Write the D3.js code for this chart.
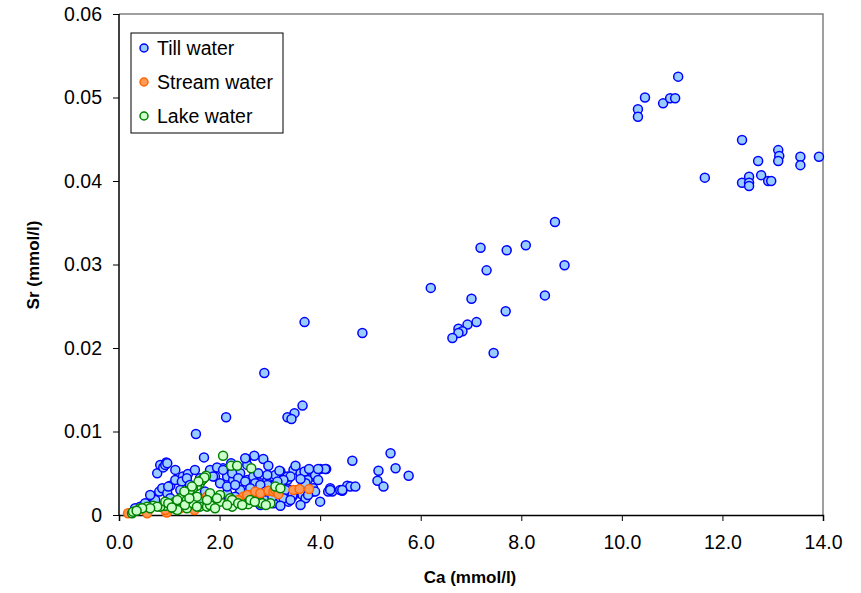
<!DOCTYPE html>
<html><head><meta charset="utf-8">
<script src="https://cdn.jsdelivr.net/npm/d3@7"></script>
<style>body{margin:0;background:#fff;} svg{display:block;} text{font-family:Arial,"Liberation Sans",sans-serif;}</style>
</head><body><svg id="c" width="861" height="593"></svg>
<script>
const seriesNames = ["Till water", "Stream water", "Lake water"];
const xTicks = [0, 2, 4, 6, 8, 10, 12, 14];
const yTicks = [0, 0.01, 0.02, 0.03, 0.04, 0.05, 0.06];
const tillWater = [
[11.12,0.0525],[10.46,0.0500],[10.32,0.0486],[10.32,0.0477],[10.82,0.0493],[10.96,0.0499],[11.06,0.0499],[12.39,0.0449],[11.65,0.0404],[12.39,0.0398],[12.53,0.0405],[12.53,0.0398],[12.53,0.0394],[12.71,0.0424],[12.77,0.0407],[12.91,0.0400],[12.97,0.0400],[13.11,0.0437],[13.13,0.0430],[13.11,0.0424],[13.55,0.0429],[13.55,0.0419],[13.92,0.0429],
[8.67,0.0351],[7.19,0.0320],[7.71,0.0317],[8.09,0.0323],[7.31,0.0293],[8.86,0.0299],[6.20,0.0272],[7.01,0.0259],[8.47,0.0263],[7.69,0.0244],[7.11,0.0231],[6.93,0.0228],[6.75,0.0223],[6.83,0.0220],[6.75,0.0218],[6.63,0.0212],[7.45,0.0194],
[3.69,0.0231],[4.84,0.0218],[2.89,0.0170],[3.65,0.0131],[3.49,0.0122],[3.35,0.0117],[3.43,0.0115],[2.13,0.0117],[1.53,0.0097],
[5.40,0.0074],[4.64,0.0065],[5.16,0.0053],[5.50,0.0056],[5.76,0.0047],[5.14,0.0041],[5.26,0.0034],[4.20,0.0032],[4.24,0.0028],[4.16,0.0028],[4.54,0.0035],[4.60,0.0034],[4.70,0.0034],[4.44,0.0029],[4.12,0.0055],[4.00,0.0055],[3.86,0.0046],
[0.76,0.0050],[0.82,0.0060],[0.94,0.0063],[0.88,0.0057],[1.69,0.0069],[2.07,0.0056],[2.69,0.0071],[2.53,0.0067],[2.87,0.0067],[2.23,0.0062],[2.55,0.0060],[2.97,0.0059],
[0.80,0.0028],[0.86,0.0032],[1.02,0.0035],[1.12,0.0042],[1.27,0.0046],[1.37,0.0049],[1.25,0.0040],[0.96,0.0026],[1.81,0.0054],[1.91,0.0046],[2.01,0.0038],[2.15,0.0046],[2.27,0.0042],[2.41,0.0050],[2.55,0.0042],[2.67,0.0046],[2.81,0.0038],[2.95,0.0042],[3.07,0.0046],[3.21,0.0050],[3.35,0.0042],[3.47,0.0054],[3.61,0.0050],[3.75,0.0042],
[3.41,0.0030],[3.61,0.0026],[3.86,0.0028],[4.20,0.0030],[4.40,0.0030],[2.15,0.0026],[2.41,0.0030],[2.67,0.0026],[2.95,0.0022],[3.21,0.0018],[3.07,0.0014],[0.42,0.0010],[0.62,0.0012],[1.27,0.0014],[1.61,0.0018],[2.01,0.0018],
[0.92,0.0060],[0.96,0.0062],[0.98,0.0034],[1.35,0.0044],[1.95,0.0057],[2.07,0.0054],[1.87,0.0046],[2.15,0.0034],[2.51,0.0068],[3.21,0.0052],[3.51,0.0059],[3.69,0.0052],[3.90,0.0048],[4.10,0.0055],[3.35,0.0046],[3.11,0.0048],[2.95,0.0048],[2.77,0.0050],[2.25,0.0050],[2.37,0.0044],[2.51,0.0040],[2.71,0.0038],
[3.31,0.0030],[3.55,0.0030],[3.86,0.0032],[3.96,0.0042],[3.71,0.0038],[4.44,0.0030],[3.45,0.0022],[3.65,0.0024],[3.05,0.0022],[2.71,0.0016],[2.51,0.0016],[3.37,0.0016],[3.71,0.0020],
[3.19,0.0053],[3.78,0.0055],[3.96,0.0055],[3.61,0.0043],[3.41,0.0046],[3.27,0.0042],[3.15,0.0040],[2.95,0.0036],[2.81,0.0036],[3.90,0.0028],[3.76,0.0024],[3.45,0.0024],[3.27,0.0020],[3.41,0.0018],
[0.32,0.0008],[0.52,0.0014],[0.72,0.0018],[1.02,0.0020],[1.41,0.0024],[1.71,0.0028],[2.31,0.0022],[2.81,0.0012],[3.21,0.0011],[3.61,0.0012],[4.00,0.0016],[1.51,0.0054],[1.12,0.0054],[1.22,0.0030],[0.62,0.0024],[1.41,0.0036],[1.61,0.0044],[2.31,0.0036],[2.61,0.0032],[3.11,0.0030],[2.91,0.0028]
];
const streamWater = [
[0.18,0.0002],[0.56,0.0002],[0.95,0.0003],[1.50,0.0006],[1.75,0.0022],[2.47,0.0022],[2.61,0.0024],[2.55,0.0024],[2.71,0.0028],[2.81,0.0026],[2.97,0.0029],[3.07,0.0028],[3.11,0.0030],[3.17,0.0025],[3.47,0.0030],[3.59,0.0031],[3.78,0.0031],[2.37,0.0018],[2.17,0.0014],[1.22,0.0008],[0.92,0.0006]
];
const lakeWater = [
[2.07,0.0071],[2.23,0.0059],[2.35,0.0059],[2.63,0.0056],[1.73,0.0047],[1.67,0.0043],[1.61,0.0038],[1.55,0.0035],[1.47,0.0032],[1.37,0.0026],[1.27,0.0022],[1.22,0.0020],[1.12,0.0016],[1.02,0.0012],[0.92,0.0011],[0.82,0.0010],[0.68,0.0011],[0.56,0.0010],[0.42,0.0008],[0.26,0.0002],
[1.81,0.0018],[2.01,0.0016],[2.27,0.0016],[2.55,0.0014],[2.81,0.0014],[3.01,0.0014],[1.61,0.0010],[1.35,0.0008],[1.08,0.0008],[1.47,0.0014],[1.75,0.0010],[1.16,0.0018],[1.35,0.0018],[1.55,0.0022],[1.81,0.0026],[2.01,0.0024],[2.21,0.0020],[3.11,0.0034],[3.21,0.0032],[2.57,0.0013],[2.25,0.0010],
[1.65,0.0042],[1.41,0.0030],[0.76,0.0010],[0.62,0.0008],[0.46,0.0008],[0.28,0.0004],[1.16,0.0006],[1.55,0.0010],[1.81,0.0012],[1.75,0.0018],[2.25,0.0018],[2.15,0.0012],[2.37,0.0014],[2.85,0.0014],[2.61,0.0018],[1.91,0.0008],[1.31,0.0012],[0.92,0.0016],
[1.70,0.0045],[1.58,0.0040],[1.45,0.0034],[1.30,0.0028],[0.98,0.0014],[1.95,0.0020],[2.45,0.0012],[2.70,0.0016],[2.92,0.0012],[0.35,0.0005],[1.05,0.0009],[1.40,0.0020]
];
const seriesData = [tillWater, streamWater, lakeWater];
const fills = ["#99CCFF", "#FF9955", "#CCFFCC"];
const strokes = ["#0000FF", "#FF6600", "#008000"];

const svg = d3.select("#c");
const L = 119, R = 823, T = 14, B = 515;
const x = d3.scaleLinear().domain([0, 14]).range([L, R]);
const y = d3.scaleLinear().domain([0, 0.06]).range([B, T]);

svg.append("path").attr("d", `M${L},${T}H${R}V${B}`).attr("fill","none").attr("stroke","#808080").attr("stroke-width",1.5);

const gx = svg.append("g").attr("transform", `translate(0,${B})`)
  .call(d3.axisBottom(x).tickValues(xTicks).tickFormat(d3.format(".1f")).tickSize(6).tickPadding(14));
const gy = svg.append("g").attr("transform", `translate(${L},0)`)
  .call(d3.axisLeft(y).tickValues(yTicks).tickFormat(d => d === 0 ? "0" : d3.format(".2f")(d)).tickSize(6).tickPadding(11));
[gx, gy].forEach(g => {
  g.select(".domain").attr("stroke","#000").attr("stroke-width",1.5);
  g.selectAll(".tick line").attr("stroke","#000").attr("stroke-width",1);
  g.selectAll(".tick text").attr("font-size", 19.5).attr("fill","#000").attr("font-family","Arial, 'Liberation Sans', sans-serif");
});
gy.select(".domain").attr("d", `M0,${B}V${T}`);

seriesData.forEach((data, i) => {
  svg.append("g").selectAll("circle").data(data).join("circle")
    .attr("cx", d => x(d[0])).attr("cy", d => y(d[1])).attr("r", 4.5)
    .attr("fill", fills[i]).attr("stroke", strokes[i]).attr("stroke-width", 1.5);
});

svg.append("text").attr("x", 470).attr("y", 583).attr("text-anchor","middle")
  .attr("font-size", 17).attr("font-weight","bold").text("Ca (mmol/l)");
svg.append("text").attr("transform","translate(39,265) rotate(-90)").attr("text-anchor","middle")
  .attr("font-size", 17).attr("font-weight","bold").text("Sr (mmol/l)");

const lg = svg.append("g");
lg.append("rect").attr("x",131).attr("y",33).attr("width",152).attr("height",100)
  .attr("fill","#fff").attr("stroke","#000").attr("stroke-width",1);
seriesNames.forEach((n, i) => {
  const cy = 48 + i * 34;
  lg.append("circle").attr("cx",144).attr("cy",cy).attr("r",4)
    .attr("fill",fills[i]).attr("stroke",strokes[i]).attr("stroke-width",1.5);
  lg.append("text").attr("x",157).attr("y",cy+7).attr("font-size",19.5).text(n);
});
</script></body></html>
